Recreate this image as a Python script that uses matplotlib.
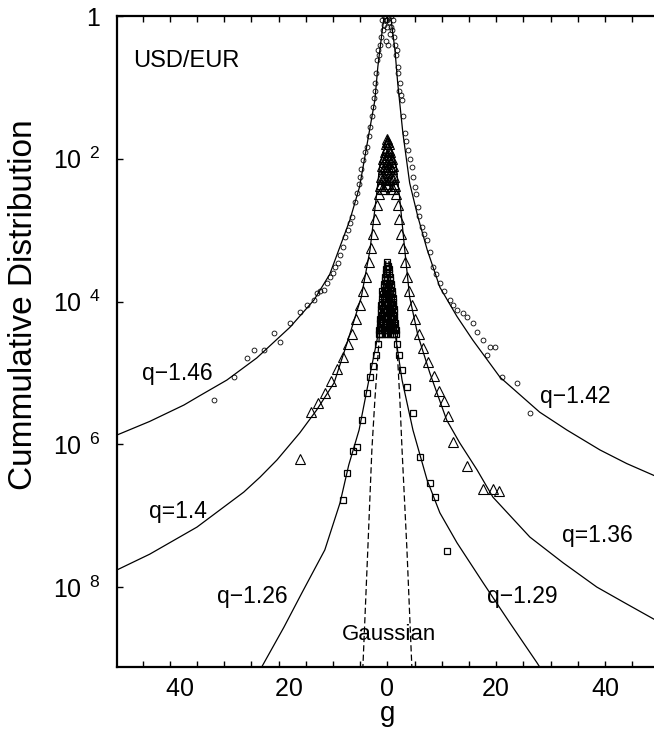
import numpy as np
import matplotlib
matplotlib.use("Agg")
import matplotlib.pyplot as plt
from matplotlib.ticker import FixedLocator, FixedFormatter, MultipleLocator, NullLocator

plt.rcParams['font.family'] = ['Liberation Sans', 'DejaVu Sans']
plt.rcParams['mathtext.default'] = 'regular'

# ---------------- fitted curves (g, log10 of cumulative distribution) ----------------
fit_top_left_g = [-49.7, -43.7, -37.4, -34.5, -29.5, -24.0, -17.9, -13.5, -10.6, -6.9, -5.1, -3.6, -2.3, -1.75, -1.0, -0.6]
fit_top_left_lp = [-5.87, -5.68, -5.45, -5.32, -5.10, -4.79, -4.36, -3.98, -3.62, -2.86, -2.39, -1.74, -1.18, -0.71, -0.24, 0.0]

fit_top_right_g = [0.6, 1.4, 1.9, 2.85, 4.1, 5.6, 7.3, 9.65, 12.8, 15.7, 20.7, 28.0, 33.0, 39.1, 44.0, 49.7]
fit_top_right_lp = [0.0, -0.48, -0.94, -1.64, -2.34, -2.81, -3.27, -3.80, -4.21, -4.54, -5.06, -5.55, -5.80, -6.08, -6.27, -6.46]

fit_mid_left_g = [-49.7, -43.7, -35.0, -26.4, -23.4, -20.3, -16.1, -13.0, -9.8, -7.4, -4.8, -3.2, -2.1, -1.4, 0.0]
fit_mid_left_lp = [-7.76, -7.54, -7.16, -6.67, -6.46, -6.22, -5.84, -5.52, -5.14, -4.58, -3.94, -3.28, -2.58, -2.09, -1.69]

fit_mid_right_g = [0.0, 1.6, 2.3, 3.2, 4.1, 5.6, 7.8, 10.9, 13.3, 16.5, 19.4, 26.2, 32.3, 38.5, 43.6, 49.7]
fit_mid_right_lp = [-1.69, -2.09, -2.58, -3.28, -3.94, -4.47, -5.00, -5.66, -5.98, -6.36, -6.74, -7.30, -7.66, -8.00, -8.22, -8.48]

fit_bot_left_g = [-23.1, -19.0, -15.7, -11.5, -8.7, -7.1, -5.2, -3.4, -1.9, -0.8, -0.3]
fit_bot_left_lp = [-9.12, -8.56, -8.08, -7.48, -6.82, -6.29, -5.80, -5.10, -4.54, -3.98, -3.44]

fit_bot_right_g = [0.3, 0.8, 1.6, 2.7, 4.7, 7.3, 9.65, 12.8, 17.6, 22.5, 27.5, 28.0]
fit_bot_right_lp = [-3.44, -3.98, -4.54, -5.10, -5.80, -6.50, -6.96, -7.38, -7.94, -8.50, -9.06, -9.12]

gauss_left_g = [-0.3, -1.4, -2.3, -2.85, -3.6, -4.5]
gauss_right_g = [0.3, 1.6, 2.3, 2.7, 3.6, 4.5]
gauss_lp = [-3.44, -4.40, -5.38, -6.08, -7.48, -9.12]

# ---------------- data points (g, log10 P) ----------------
top_data_g = [-0.6, 0.0, 0.6, -0.3, 0.3, 0.0, -0.6, 0.7, -0.2, 0.2, 0.9, -0.8, -1.0, 1.0, 0.4,
              -1.2, -1.4, -1.6, -1.75, -1.9, -2.0, -2.2, -2.3, -2.45, -2.65, -2.9, -3.2, -3.4, -3.8,
              -4.1, -4.5, -4.8, -5.1, -5.3, -5.6, -6.0, -6.5, -6.9, -7.3, -7.7, -8.2, -8.7, -9.1,
              -9.6, -10.0, -10.5, -11.1, -11.7, -12.3, -12.9, -13.5, -14.8, -16.1, -17.9, -19.8,
              -20.9, -22.7, -24.5, -25.8, -28.2, -31.9,
              1.2, 1.4, 1.6, 1.75, 1.9, 2.0, 2.2, 2.3, 2.45, 2.65, 2.9, 3.2, 3.5, 3.8, 4.1, 4.5,
              4.8, 5.1, 5.3, 5.6, 5.9, 6.3, 6.8, 7.3, 7.8, 8.4, 9.0, 9.65, 10.5, 11.5, 12.1, 12.8,
              13.9, 14.7, 15.7, 16.5, 17.5, 18.9, 19.8, 18.3, 21.0, 23.8, 26.2]
top_data_lp = [0.0, -0.05, 0.0, -0.05, -0.08, -0.15, -0.12, -0.15, -0.35, -0.40, -0.20, -0.20, -0.06, -0.06, -0.25,
               -0.30, -0.40, -0.55, -0.48, -0.62, -0.80, -1.05, -0.94, -1.15, -1.27, -1.40, -1.55, -1.68, -1.83,
               -1.90, -2.02, -2.15, -2.25, -2.35, -2.48, -2.60, -2.82, -2.90, -3.00, -3.10, -3.24, -3.35, -3.46,
               -3.52, -3.60, -3.65, -3.74, -3.84, -3.85, -3.88, -3.98, -4.05, -4.15, -4.30, -4.57,
               -4.44, -4.68, -4.68, -4.79, -5.06, -5.38,
               -0.30, -0.40, -0.55, -0.48, -0.71, -0.80, -1.05, -0.94, -1.10, -1.18, -1.40, -1.64, -1.75, -1.88, -2.00, -2.11,
               -2.25, -2.39, -2.50, -2.68, -2.80, -2.96, -3.05, -3.14, -3.30, -3.52, -3.62, -3.74, -3.85, -3.98, -4.05, -4.12,
               -4.16, -4.22, -4.30, -4.42, -4.54, -4.64, -4.64, -4.75, -5.06, -5.14, -5.56]

mid_data_g = [0.0, -0.3, 0.3, 0.0, -0.5, 0.5, 0.0, -0.8, 0.8, -0.3, 0.3, 0.0, -1.0, 1.0, -0.5, 0.5,
              0.0, -1.2, 1.2, -0.7, 0.7, -0.3, 0.3, -1.4, 1.4, 0.0,
              -0.15, 0.15, -0.25, 0.25, -0.55, 0.55, 0.0, -0.65, 0.65, -0.3, 0.3, -0.85, 0.85, 0.0,
              -0.5, 0.5, -1.0, 1.0, 0.0, -1.2, 1.2, -0.2, 0.2, -0.6, 0.6, -1.0, 1.0,
              -1.6, -1.9, -2.2, -2.6, -3.0, -3.4, -3.9, -4.4, -5.0, -5.7, -6.5, -7.3, -8.2, -9.2,
              -10.3, -11.5, -12.7, -14.0, -16.1,
              1.6, 1.9, 2.2, 2.5, 2.8, 3.2, 3.6, 4.0, 4.5, 5.1, 5.8, 6.6, 7.5, 8.5, 9.5, 10.4, 11.2,
              12.1, 14.6, 17.6, 19.4, 20.6]
mid_data_lp = [-1.72, -1.80, -1.80, -1.85, -1.90, -1.90, -1.95, -2.00, -2.00, -2.00, -2.00, -2.08, -2.10, -2.10, -2.12, -2.12,
               -2.20, -2.25, -2.25, -2.25, -2.25, -2.30, -2.30, -2.38, -2.38, -2.38,
               -1.76, -1.76, -1.88, -1.88, -1.98, -1.98, -1.98, -2.05, -2.05, -2.15, -2.15, -2.15, -2.15, -2.15,
               -2.28, -2.28, -2.28, -2.28, -2.28, -2.35, -2.35, -2.35, -2.35, -2.42, -2.42, -2.42, -2.42,
               -2.50, -2.65, -2.85, -3.05, -3.25, -3.45, -3.65, -3.85, -4.05, -4.25, -4.45, -4.60, -4.78, -4.95,
               -5.12, -5.28, -5.42, -5.55, -6.21,
               -2.50, -2.65, -2.85, -3.05, -3.25, -3.45, -3.65, -3.85, -4.05, -4.25, -4.45, -4.65, -4.85, -5.05, -5.25, -5.40, -5.60,
               -5.97, -6.31, -6.63, -6.63, -6.65]

bot_data_g = [0.0, -0.3, 0.3, 0.0, -0.5, 0.5, -0.3, 0.3, -0.7, 0.7,
              0.0, -0.5, 0.5, -0.9, 0.9, -0.3, 0.3, -0.7, 0.7, -1.0, 1.0,
              0.0, -0.5, 0.5, -0.9, 0.9, -1.1, 1.1, -0.3, 0.3, -0.7, 0.7, -1.2, 1.2,
              0.0, -0.5, 0.5, -0.9, 0.9, -1.3, 1.3, -0.3, 0.3, -0.7, 0.7, -1.1, 1.1, -1.4, 1.4,
              0.0, -0.5, 0.5, -0.9, 0.9, -1.3, 1.3, -1.5, 1.5,
              -0.15, 0.15, -0.25, 0.25, 0.0, 0.0, -0.5, 0.5, -0.2, 0.2, -0.6, 0.6,
              0.0, -0.45, 0.45, -0.8, 0.8, -0.2, 0.2, -0.6, 0.6, -0.95, 0.95,
              0.0, -0.4, 0.4, -0.8, 0.8, -1.15, 1.15, -0.2, 0.2, -0.6, 0.6, -1.0, 1.0, -1.25, 1.25,
              0.0, -0.4, 0.4, -0.8, 0.8, -1.15, 1.15, -1.35, 1.35,
              -0.2, 0.2, -0.6, 0.6, -1.0, 1.0, -1.35, 1.35, -1.55, 1.55,
              -1.7, -2.1, -2.6, -3.2, -3.8, -4.7, -5.6, -6.3, -7.4, -8.2,
              1.7, 2.1, 2.7, 3.6, 4.7, 6.0, 7.8, 8.7, 10.9]
bot_data_lp = [-3.45, -3.55, -3.55, -3.65, -3.65, -3.65, -3.75, -3.75, -3.75, -3.75,
               -3.85, -3.85, -3.85, -3.85, -3.85, -3.95, -3.95, -3.95, -3.95, -3.95, -3.95,
               -4.05, -4.05, -4.05, -4.05, -4.05, -4.05, -4.05, -4.15, -4.15, -4.15, -4.15, -4.15, -4.15,
               -4.25, -4.25, -4.25, -4.25, -4.25, -4.25, -4.25, -4.35, -4.35, -4.35, -4.35, -4.35, -4.35, -4.35, -4.35,
               -4.45, -4.45, -4.45, -4.45, -4.45, -4.45, -4.45, -4.45, -4.45,
               -3.50, -3.50, -3.60, -3.60, -3.60, -3.70, -3.70, -3.70, -3.80, -3.80, -3.80, -3.80,
               -3.90, -3.90, -3.90, -3.90, -3.90, -4.00, -4.00, -4.00, -4.00, -4.00, -4.00,
               -4.10, -4.10, -4.10, -4.10, -4.10, -4.10, -4.10, -4.20, -4.20, -4.20, -4.20, -4.20, -4.20, -4.20, -4.20,
               -4.30, -4.30, -4.30, -4.30, -4.30, -4.30, -4.30, -4.30, -4.30,
               -4.40, -4.40, -4.40, -4.40, -4.40, -4.40, -4.40, -4.40, -4.40, -4.40,
               -4.60, -4.75, -4.90, -5.06, -5.28, -5.66, -6.04, -6.10, -6.40, -6.78,
               -4.60, -4.75, -4.96, -5.20, -5.56, -6.18, -6.54, -6.74, -7.50]

fit_labels = ["q\u22121.46", "q\u22121.42", "q=1.4", "q=1.36", "q\u22121.26", "q\u22121.29"]

x_ticks = [-40, -20, 0, 20, 40]
x_tick_labels = ["   40", "   20", "0", "20", "40"]
y_ticks = [1.0, 1e-2, 1e-4, 1e-6, 1e-8]
y_tick_labels = ["1", r"$10^{\enspace 2}$", r"$10^{\enspace 4}$", r"$10^{\enspace 6}$", r"$10^{\enspace 8}$"]

# ---------------- figure / axes ----------------
W, H = 654, 735
fig = plt.figure(figsize=(W / 100, H / 100), dpi=100)
ax_l, ax_t, ax_b = 117, 16, 667
gmin, gmax = -49.7, 49.7
ppg = 5.44
ax_r = ax_l + (gmax - gmin) * ppg
ax = fig.add_axes([ax_l / W, 1 - ax_b / H, (ax_r - ax_l) / W, (ax_b - ax_t) / H])
ax.set_yscale('log')
ax.set_xlim(gmin, gmax)
ax.set_ylim(10 ** -9.12, 1.0)

def P(v):
    return 10.0 ** np.asarray(v, dtype=float)

lw = 0.9
for g, lp in [(fit_top_left_g, fit_top_left_lp), (fit_top_right_g, fit_top_right_lp),
              (fit_mid_left_g, fit_mid_left_lp), (fit_mid_right_g, fit_mid_right_lp),
              (fit_bot_left_g, fit_bot_left_lp), (fit_bot_right_g, fit_bot_right_lp)]:
    ax.plot(g, P(lp), color='black', lw=lw, zorder=3)

for g in (gauss_left_g, gauss_right_g):
    ax.plot(g, P(gauss_lp), color='black', lw=0.9, ls=(0, (5, 2.5)), zorder=3)

ax.plot(top_data_g, P(top_data_lp), ls='none', marker='o', ms=3.5, mfc='none', mec='black', mew=0.6, zorder=4)
ax.plot(mid_data_g, P(mid_data_lp), ls='none', marker='^', ms=6.5, mfc='none', mec='black', mew=0.8, zorder=4)
ax.plot(bot_data_g, P(bot_data_lp), ls='none', marker='s', ms=5, mfc='none', mec='black', mew=0.9, zorder=4)

# ticks
ax.xaxis.set_major_locator(FixedLocator(x_ticks))
ax.xaxis.set_major_formatter(FixedFormatter(x_tick_labels))
ax.xaxis.set_minor_locator(MultipleLocator(5))
ax.yaxis.set_major_locator(FixedLocator(y_ticks))
ax.yaxis.set_major_formatter(FixedFormatter(y_tick_labels))
ax.yaxis.set_minor_locator(NullLocator())
ax.tick_params(axis='x', which='both', direction='in', top=True, bottom=True, length=4, width=1.0,
               labelsize=18, pad=7)
ax.tick_params(axis='y', which='both', direction='in', left=True, right=False, length=4, width=1.0,
               labelsize=18, pad=12)
for s in ['left', 'bottom', 'top']:
    ax.spines[s].set_linewidth(1.6)
ax.spines['right'].set_visible(False)

ax.set_ylabel("Cummulative Distribution", fontsize=24)
ax.yaxis.label.set_va('center')
ax.yaxis.set_label_coords((24 - ax_l) / (ax_r - ax_l), (ax_b - 305) / (ax_b - ax_t))
ax.set_xlabel("g", fontsize=20)
ax.xaxis.label.set_va('baseline')
ax.xaxis.set_label_coords((388 - ax_l) / (ax_r - ax_l), (ax_b - 721) / (ax_b - ax_t))

def ftext(x, y, s, size):
    fig.text(x / W, 1 - y / H, s, fontsize=size, ha='left', va='baseline')

ftext(133, 67, "USD/EUR", 17)
label_pos = [(142, 380), (540, 403), (149, 518), (562, 542), (217, 603), (487, 603)]
for (x, y), s in zip(label_pos, fit_labels):
    ftext(x, y, s, 16.5)
ftext(342, 640, "Gaussian", 16)

fig.savefig("out.png", dpi=100)
